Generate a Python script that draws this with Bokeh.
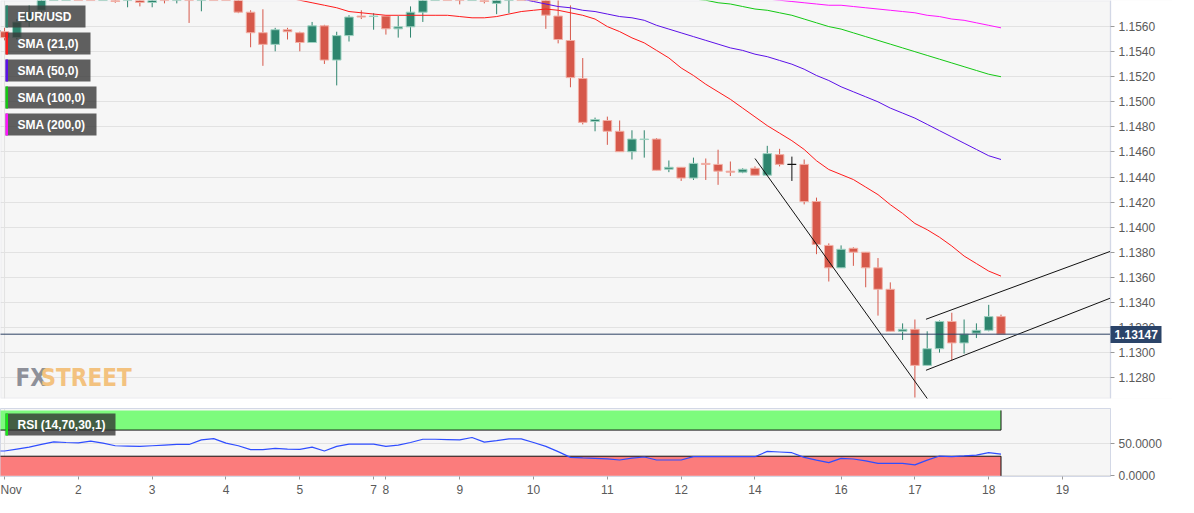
from bokeh.plotting import figure
from bokeh.layouts import column
from bokeh.models import (Range1d, FixedTicker, NumeralTickFormatter, Span, LinearAxis,
                          BoxAnnotation)
from bokeh.core.properties import value
from bokeh.embed import file_html
from bokeh.resources import INLINE

# ---------------- data (4h candles, index 0 = Nov 1 00:00) ----------------
candle_index = list(range(-1, 82))
opens = [
    1.15565, 1.15559, 1.15512, 1.15637, 1.15730,
    1.15860, 1.15950, 1.16050, 1.15980, 1.15920,
    1.15950, 1.15810, 1.15880, 1.15792, 1.15870,
    1.15830, 1.15900, 1.15830, 1.16100, 1.16000,
    1.15950, 1.15715, 1.15551, 1.15458, 1.15575,
    1.15551, 1.15473, 1.15606, 1.15333, 1.15528,
    1.15684, 1.15680, 1.15684, 1.15582, 1.15598,
    1.15715, 1.15880, 1.15950, 1.15900, 1.15850,
    1.15930, 1.15785, 1.15950, 1.16050, 1.15960,
    1.15900, 1.15684, 1.15489, 1.15186, 1.14843,
    1.14851, 1.14765, 1.14602, 1.14699, 1.14703,
    1.14462, 1.14478, 1.14392, 1.14509, 1.14501,
    1.14447, 1.14439, 1.14470, 1.14415, 1.14579,
    1.14501, 1.14501, 1.14205, 1.13855, 1.13676,
    1.13832, 1.13801, 1.13676, 1.13505, 1.13170,
    1.13186, 1.12898, 1.13031, 1.13248, 1.13077,
    1.13155, 1.13178, 1.13287,
]
highs = [
    1.15600, 1.15590, 1.15660, 1.15769, 1.15900,
    1.15990, 1.16100, 1.16160, 1.16050, 1.15990,
    1.15980, 1.15950, 1.15930, 1.15920, 1.15910,
    1.15960, 1.15950, 1.16160, 1.16190, 1.16070,
    1.16000, 1.15730, 1.15738, 1.15590, 1.15590,
    1.15559, 1.15637, 1.15614, 1.15559, 1.15691,
    1.15730, 1.15707, 1.15684, 1.15684, 1.15761,
    1.15920, 1.15990, 1.16050, 1.15950, 1.15980,
    1.15950, 1.16000, 1.16090, 1.16080, 1.16000,
    1.15950, 1.15820, 1.15769, 1.15349, 1.14874,
    1.14882, 1.14851, 1.14773, 1.14773, 1.14711,
    1.14532, 1.14478, 1.14555, 1.14548, 1.14618,
    1.14524, 1.14470, 1.14485, 1.14649, 1.14625,
    1.14563, 1.14540, 1.14236, 1.13871, 1.13855,
    1.13840, 1.13801, 1.13754, 1.13560, 1.13233,
    1.13264, 1.13170, 1.13256, 1.13318, 1.13264,
    1.13233, 1.13381, 1.13303,
]
lows = [
    1.15520, 1.15490, 1.15497, 1.15598, 1.15700,
    1.15830, 1.15900, 1.15950, 1.15880, 1.15860,
    1.15790, 1.15754, 1.15761, 1.15754, 1.15785,
    1.15785, 1.15629, 1.15722, 1.15950, 1.15870,
    1.15707, 1.15435, 1.15287, 1.15403, 1.15497,
    1.15403, 1.15473, 1.15302, 1.15131, 1.15481,
    1.15660, 1.15575, 1.15536, 1.15512, 1.15512,
    1.15637, 1.15840, 1.15880, 1.15777, 1.15820,
    1.15785, 1.15699, 1.15707, 1.15900, 1.15850,
    1.15582, 1.15466, 1.15116, 1.14820, 1.14765,
    1.14657, 1.14602, 1.14540, 1.14555, 1.14454,
    1.14439, 1.14369, 1.14377, 1.14377, 1.14338,
    1.14408, 1.14431, 1.14415, 1.14415, 1.14485,
    1.14369, 1.14182, 1.13785, 1.13567, 1.13676,
    1.13692, 1.13521, 1.13295, 1.13170, 1.13101,
    1.12642, 1.12898, 1.13000, 1.12937, 1.12992,
    1.13116, 1.13170, 1.13147,
]
closes = [
    1.15565, 1.15512, 1.15637, 1.15715, 1.15860,
    1.15950, 1.16050, 1.15980, 1.15920, 1.15950,
    1.15800, 1.15900, 1.15792, 1.15870, 1.15830,
    1.15900, 1.15830, 1.16100, 1.16000, 1.15950,
    1.15715, 1.15551, 1.15458, 1.15575, 1.15559,
    1.15473, 1.15606, 1.15333, 1.15528, 1.15676,
    1.15676, 1.15684, 1.15582, 1.15598, 1.15715,
    1.15880, 1.15950, 1.15900, 1.15850, 1.15930,
    1.15800, 1.15950, 1.16050, 1.15960, 1.15900,
    1.15691, 1.15497, 1.15193, 1.14836, 1.14859,
    1.14765, 1.14602, 1.14703, 1.14703, 1.14454,
    1.14478, 1.14392, 1.14509, 1.14501, 1.14447,
    1.14439, 1.14462, 1.14415, 1.14587, 1.14501,
    1.14501, 1.14205, 1.13863, 1.13676, 1.13824,
    1.13801, 1.13676, 1.13505, 1.13170, 1.13186,
    1.12898, 1.13031, 1.13248, 1.13077, 1.13147,
    1.13178, 1.13287, 1.13147,
]

sma21_start = 20
sma21 = [
    1.1590, 1.1587, 1.1585, 1.1583, 1.1581, 1.1579, 1.1577, 1.1575, 1.1572, 1.1571,
    1.1570, 1.1569, 1.1569, 1.1569, 1.1569, 1.1569, 1.1569, 1.1568, 1.1567, 1.1567,
    1.1568, 1.1570, 1.1572, 1.1573, 1.1574, 1.1573, 1.1571, 1.1569, 1.1566, 1.1560,
    1.1556, 1.1551, 1.1547, 1.1541, 1.1535, 1.1527, 1.1521, 1.1514, 1.1508, 1.1502,
    1.1495, 1.1488, 1.1481, 1.1475, 1.1469, 1.1462, 1.1453, 1.1446, 1.1442, 1.1438,
    1.1432, 1.1426, 1.1418, 1.1411, 1.1403, 1.1398, 1.1392, 1.1385, 1.1377, 1.1371,
    1.1365, 1.1361,
]
sma50_start = 38
sma50 = [
    1.1590, 1.1588, 1.1586, 1.1584, 1.1582, 1.1580, 1.1578, 1.1576, 1.1575, 1.1573,
    1.1572, 1.1570, 1.1568, 1.1567, 1.1565, 1.1561, 1.1558, 1.1555, 1.1552, 1.1549,
    1.1546, 1.1543, 1.1541, 1.1538, 1.1536, 1.1533, 1.1530, 1.1526, 1.1521, 1.1517,
    1.1512, 1.1508, 1.1504, 1.1500, 1.1495, 1.1491, 1.1487, 1.1482, 1.1477, 1.1472,
    1.1467, 1.1462, 1.1457, 1.1454,
]
sma100_start = 50
sma100 = [
    1.1590, 1.1588, 1.1587, 1.1586, 1.1585, 1.1583, 1.1582, 1.1581, 1.1579, 1.1578,
    1.1576, 1.1574, 1.1573, 1.1571, 1.1569, 1.1566, 1.1563, 1.1560, 1.1558, 1.1555,
    1.1552, 1.1549, 1.1546, 1.1543, 1.1540, 1.1537, 1.1534, 1.1531, 1.1528, 1.1525,
    1.1522, 1.1520,
]
sma200_start = 56
sma200 = [
    1.1590, 1.1588, 1.1587, 1.1585, 1.1584, 1.1583, 1.1582, 1.1581, 1.1580, 1.1579,
    1.1578, 1.1577, 1.1577, 1.1576, 1.1575, 1.1574, 1.1573, 1.1572, 1.1571, 1.1569,
    1.1568, 1.1566, 1.1565, 1.1563, 1.1561, 1.1559,
]

rsi_values = [
    38, 38, 41, 44, 48, 52, 51, 50.5, 53, 50,
    46, 45.5, 45, 46, 47, 48, 48, 55, 57, 50,
    46, 40, 40, 42, 41, 40.5, 44, 38, 45, 48.5,
    48.5, 48.5, 45, 47, 51, 56, 56, 55.5, 55, 58.6,
    51.5, 54, 56.6, 56.6, 51, 45, 37, 28.3, 27.5, 26.8,
    26, 24.2, 27, 28.8, 24.2, 24.2, 24.2, 29.3, 29.3, 29.3,
    29.3, 29.3, 29.3, 37.4, 36.5, 35.4, 28.3, 24, 20.2, 26.8,
    25.8, 23, 19.2, 19, 19.2, 16.7, 24, 30.3, 29.3, 30.5,
    31.8, 35.4, 33.3,
]
rsi_overbought = 70
rsi_oversold = 30

tick_index = [0, 6, 12, 18, 24, 30, 31, 37, 43, 49, 55, 61, 68, 74, 80, 86]
tick_labels = ["Nov", "2", "3", "4", "5", "7", "8", "9", "10", "11", "12", "14", "16", "17", "18", "19"]
price_ticks = [1.1280, 1.1300, 1.1320, 1.1340, 1.1360, 1.1380, 1.1400, 1.1420,
               1.1440, 1.1460, 1.1480, 1.1500, 1.1520, 1.1540, 1.1560]
rsi_ticks = [0, 50]
last_price = 1.13147

trend_down_x = [61.0, 75.5]
trend_down_y = [1.14548, 1.12566]
channel_x = [74.9, 89.9]
channel_upper_y = [1.13266, 1.13808]
channel_lower_y = [1.12859, 1.13435]

legend_texts = ["EUR/USD", "SMA (21,0)", "SMA (50,0)", "SMA (100,0)", "SMA (200,0)"]
legend_colors = ["#2e856e", "#ff1a1a", "#5b10e8", "#13c813", "#ff14ff"]
legend_widths = [80, 85, 85, 91, 91]

# ---------------- layout constants ----------------
FW, FH = 1110, 398          # chart area of the price panel (px)
FW_ALL = 1172               # price panel frame incl. the price scale strip
X0, X1 = -0.33, 89.9
XR_END = X0 + FW_ALL * (X1 - X0) / FW
Y0, Y1 = 1.12634, 1.15808
FH2 = 68
RY0, RY1 = -1.0, 103.0
FONT = "Liberation Sans"
BG = "#f6f6f6"
BORDER = "#d3d8e6"
RED = "#d6584a"
GREEN = "#2e856e"
NAVY = "#2b4469"


def dx(px):
    return X0 + px * (X1 - X0) / FW


def dy(py):
    return Y1 - py * (Y1 - Y0) / FH


def dy2(py):
    return RY1 - py * (RY1 - RY0) / FH2


def style_axis(a):
    a.axis_line_color = BORDER
    a.major_tick_line_color = "#9a9a9a"
    a.major_tick_in = 0
    a.minor_tick_line_color = None
    a.major_label_text_font = FONT
    a.major_label_text_font_size = "12px"
    a.major_label_text_color = "#5a5a5a"


# ---------------- main price panel ----------------
p1 = figure(frame_width=FW_ALL, frame_height=FH, x_range=Range1d(X0, XR_END),
            y_range=Range1d(Y0, Y1), output_backend="svg", toolbar_location=None,
            x_axis_location=None, y_axis_location=None, min_border_left=0,
            min_border_top=0, min_border_bottom=5, min_border_right=0)
p1.background_fill_color = BG
p1.border_fill_color = "white"
p1.outline_line_color = None
p1.xgrid.visible = False
p1.ygrid.ticker = FixedTicker(ticks=price_ticks)
p1.ygrid.grid_line_color = "#e2e2e2"

# white strip for the price scale, chart border
p1.add_layout(BoxAnnotation(left=X1, right=XR_END + 5, bottom=Y0 - 1, top=Y1 + 1,
                            fill_color="white", fill_alpha=1, line_color=None, level="underlay"))
p1.add_layout(BoxAnnotation(left=X0, right=X1, bottom=Y0, top=Y1, fill_alpha=0,
                            line_color=BORDER, line_width=2, level="underlay"))
p1.add_layout(Span(location=0, dimension="height", line_color="#e2e2e2", line_width=1,
                   level="underlay"))

# price scale pinned at the right edge of the chart area
ax = LinearAxis(fixed_location=X1, ticker=FixedTicker(ticks=price_ticks),
                formatter=NumeralTickFormatter(format="0.0000"))
style_axis(ax)
ax.major_tick_out = 4
ax.major_label_standoff = 4
p1.add_layout(ax, "right")

# watermark
p1.text(x=[dx(15), dx(40)], y=[dy(377), dy(377)], text=["FX", "STREET"],
        text_color=["#8e9099", "#f3c27f"], text_font_size="24px", text_font_style="bold",
        text_font=value("Liberation Sans Narrow, DejaVu Sans Condensed"),
        text_baseline="alphabetic")

# candles
colors = [GREEN if c > o else (RED if c < o else "#111111") for o, c in zip(opens, closes)]
outlines = ["#9fd2c2" if c > o else ("#f2b0a6" if c < o else "#111111") for o, c in zip(opens, closes)]
tops = [max(o, c) for o, c in zip(opens, closes)]
bottoms = [min(o, c) for o, c in zip(opens, closes)]
p1.segment(x0=candle_index, y0=lows, x1=candle_index, y1=highs, line_color=colors, line_width=1)
p1.vbar(x=candle_index, width=0.7, top=tops, bottom=bottoms, fill_color=colors,
        line_color=outlines, line_width=1)

# moving averages
p1.line(list(range(sma21_start, sma21_start + len(sma21))), sma21, line_color="#ff1a1a", line_width=1)
p1.line(list(range(sma50_start, sma50_start + len(sma50))), sma50, line_color="#5b10e8", line_width=1)
p1.line(list(range(sma100_start, sma100_start + len(sma100))), sma100, line_color="#13c813", line_width=1)
p1.line(list(range(sma200_start, sma200_start + len(sma200))), sma200, line_color="#ff14ff", line_width=1)

# drawn trend lines
p1.line(trend_down_x, trend_down_y, line_color="#111111", line_width=1)
p1.line(channel_x, channel_upper_y, line_color="#111111", line_width=1)
p1.line(channel_x, channel_lower_y, line_color="#111111", line_width=1)

# last price line
p1.segment(x0=[X0 - 1], x1=[X1], y0=[last_price], y1=[last_price], line_color="#2b4063",
           line_width=1)

# last price tag: an axis pinned at the chart edge, one thick tick as the box
tag = LinearAxis(fixed_location=X1, ticker=FixedTicker(ticks=[last_price]),
                 formatter=NumeralTickFormatter(format="0.00000"))
tag.axis_line_color = None
tag.minor_tick_line_color = None
tag.major_tick_line_color = NAVY
tag.major_tick_line_width = 17
tag.major_tick_line_cap = "butt"
tag.major_tick_out = 51
tag.major_tick_in = 0
tag.major_label_standoff = -47
tag.major_label_text_color = "white"
tag.major_label_text_font = FONT
tag.major_label_text_font_style = "bold"
tag.major_label_text_font_size = "12px"
p1.add_layout(tag, "right")

# legend boxes
for k, (txt, col, w) in enumerate(zip(legend_texts, legend_colors, legend_widths)):
    top = 5 + 27 * k
    p1.quad(left=[dx(5)], right=[dx(5 + w)], top=[dy(top)], bottom=[dy(top + 22)],
            fill_color="#393939", fill_alpha=0.8, line_color=None)
    p1.quad(left=[dx(5)], right=[dx(7.5)], top=[dy(top)], bottom=[dy(top + 22)],
            fill_color=col, line_color=None)
    p1.text(x=[dx(17)], y=[dy(top + 11.5)], text=[txt], text_color="white",
            text_font=value(FONT), text_font_size="12px", text_font_style="bold",
            text_baseline="middle")

# ---------------- RSI panel ----------------
p2 = figure(frame_width=FW, frame_height=FH2, x_range=Range1d(X0, X1),
            y_range=Range1d(RY0, RY1), output_backend="svg", toolbar_location=None,
            y_axis_location="right", min_border_left=0, min_border_top=5,
            min_border_bottom=0, min_border_right=10)
p2.background_fill_color = BG
p2.border_fill_color = "white"
p2.outline_line_color = BORDER
p2.xgrid.visible = False
p2.ygrid.ticker = FixedTicker(ticks=rsi_ticks)
p2.ygrid.grid_line_color = "#e2e2e2"

last_i = candle_index[-1]
p2.add_layout(Span(location=0, dimension="height", line_color="#e2e2e2", line_width=1,
                   level="underlay"))
p2.quad(left=[X0 - 2], right=[last_i], bottom=[rsi_overbought], top=[100],
        fill_color="#7dfb7d", line_color=None)
p2.quad(left=[X0 - 2], right=[last_i], bottom=[0], top=[rsi_oversold],
        fill_color="#fb7c7c", line_color=None)
p2.multi_line(xs=[[X0 - 2, last_i, last_i], [X0 - 2, last_i, last_i]],
              ys=[[rsi_overbought, rsi_overbought, 100], [rsi_oversold, rsi_oversold, 0]],
              line_color="#111111", line_width=1)
p2.line(candle_index, rsi_values, line_color="#2f4dff", line_width=1.2)

p2.quad(left=[dx(5)], right=[dx(115)], top=[dy2(5)], bottom=[dy2(27)],
        fill_color="#333333", fill_alpha=0.78, line_color=None)
p2.quad(left=[dx(5)], right=[dx(7.5)], top=[dy2(5)], bottom=[dy2(27)],
        fill_color="#19e619", line_color=None)
p2.text(x=[dx(17)], y=[dy2(16.5)], text=["RSI (14,70,30,1)"], text_color="white",
        text_font=value(FONT), text_font_size="12px", text_font_style="bold",
        text_baseline="middle")

ay = p2.yaxis[0]
ay.ticker = FixedTicker(ticks=rsi_ticks)
ay.formatter = NumeralTickFormatter(format="0.0000")
style_axis(ay)
ay.major_tick_out = 4
ay.major_label_standoff = 4

axx = p2.xaxis[0]
axx.ticker = FixedTicker(ticks=tick_index)
axx.major_label_overrides = {t: s for t, s in zip(tick_index, tick_labels)}
style_axis(axx)
axx.major_tick_out = 3
axx.major_label_standoff = 3

layout = column(p1, p2)
open("out.html", "w").write(file_html(layout, INLINE))
